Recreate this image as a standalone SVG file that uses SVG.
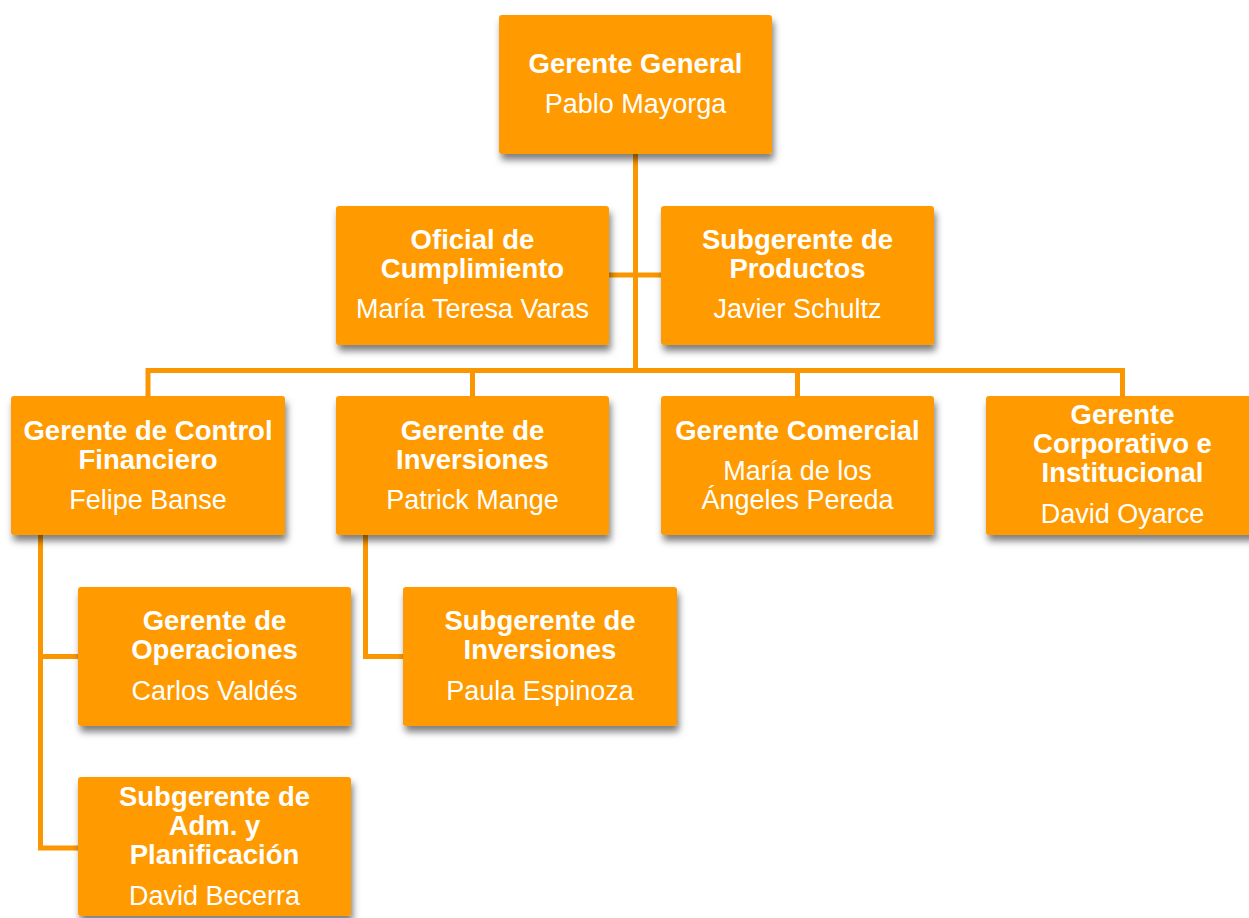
<svg xmlns="http://www.w3.org/2000/svg" width="1249" height="918" viewBox="0 0 1249 918">
<defs>
<filter id="sh" x="-10%" y="-10%" width="125%" height="140%">
<feDropShadow dx="2" dy="6" stdDeviation="3.5" flood-color="#000" flood-opacity="0.5"/>
</filter>
<style>
.box{fill:#FF9A00;filter:url(#sh)}
.t{font-family:"Liberation Sans",Arial,sans-serif;font-weight:bold;font-size:27.5px;fill:#fff;text-anchor:middle}
.n{font-family:"Liberation Sans",Arial,sans-serif;font-size:27px;fill:#fff;text-anchor:middle}
.c{fill:none;stroke:#FA9700;stroke-width:5;stroke-linejoin:miter}
</style>
</defs>
<rect width="1249" height="918" fill="#fff"/>
<g id="connectors">
<path class="c" d="M635.5 154 V370.5"/>
<path class="c" d="M609 275 H661"/>
<path class="c" d="M148 396 V370.5 H1122.5 V396"/>
<path class="c" d="M472.5 370.5 V396"/>
<path class="c" d="M797.5 370.5 V396"/>
<path class="c" d="M40.5 535 V848 H78"/>
<path class="c" d="M40.5 656.5 H78"/>
<path class="c" d="M365.5 535 V656.5 H403"/>
</g>
<g id="n-gerente-general">
<rect class="box" x="499" y="15" width="273" height="139" rx="3"/>
<text class="t" x="635.5" y="73">Gerente General</text>
<text class="n" x="635.5" y="113">Pablo Mayorga</text>
</g>
<g id="n-oficial">
<rect class="box" x="336" y="206" width="273" height="139" rx="3"/>
<text class="t" x="472.5" y="249">Oficial de</text>
<text class="t" x="472.5" y="278">Cumplimiento</text>
<text class="n" x="472.5" y="318">María Teresa Varas</text>
</g>
<g id="n-productos">
<rect class="box" x="661" y="206" width="273" height="139" rx="3"/>
<text class="t" x="797.5" y="249">Subgerente de</text>
<text class="t" x="797.5" y="278">Productos</text>
<text class="n" x="797.5" y="318">Javier Schultz</text>
</g>
<g id="n-control">
<rect class="box" x="11" y="396" width="274" height="139" rx="3"/>
<text class="t" x="148" y="440">Gerente de Control</text>
<text class="t" x="148" y="469">Financiero</text>
<text class="n" x="148" y="509">Felipe Banse</text>
</g>
<g id="n-inversiones">
<rect class="box" x="336" y="396" width="273" height="139" rx="3"/>
<text class="t" x="472.5" y="440">Gerente de</text>
<text class="t" x="472.5" y="469">Inversiones</text>
<text class="n" x="472.5" y="509">Patrick Mange</text>
</g>
<g id="n-comercial">
<rect class="box" x="661" y="396" width="273" height="139" rx="3"/>
<text class="t" x="797.5" y="440">Gerente Comercial</text>
<text class="n" x="797.5" y="480">María de los</text>
<text class="n" x="797.5" y="509">Ángeles Pereda</text>
</g>
<g id="n-corporativo">
<rect class="box" x="986" y="396" width="273" height="139" rx="3"/>
<text class="t" x="1122.5" y="424">Gerente</text>
<text class="t" x="1122.5" y="453">Corporativo e</text>
<text class="t" x="1122.5" y="482">Institucional</text>
<text class="n" x="1122.5" y="523">David Oyarce</text>
</g>
<g id="n-operaciones">
<rect class="box" x="78" y="587" width="273" height="139" rx="3"/>
<text class="t" x="214.5" y="630">Gerente de</text>
<text class="t" x="214.5" y="659">Operaciones</text>
<text class="n" x="214.5" y="700">Carlos Valdés</text>
</g>
<g id="n-subinversiones">
<rect class="box" x="403" y="587" width="274" height="139" rx="3"/>
<text class="t" x="540" y="630">Subgerente de</text>
<text class="t" x="540" y="659">Inversiones</text>
<text class="n" x="540" y="700">Paula Espinoza</text>
</g>
<g id="n-adm">
<rect class="box" x="78" y="777" width="273" height="139" rx="3"/>
<text class="t" x="214.5" y="806">Subgerente de</text>
<text class="t" x="214.5" y="835">Adm. y</text>
<text class="t" x="214.5" y="864">Planificación</text>
<text class="n" x="214.5" y="905">David Becerra</text>
</g>
</svg>
